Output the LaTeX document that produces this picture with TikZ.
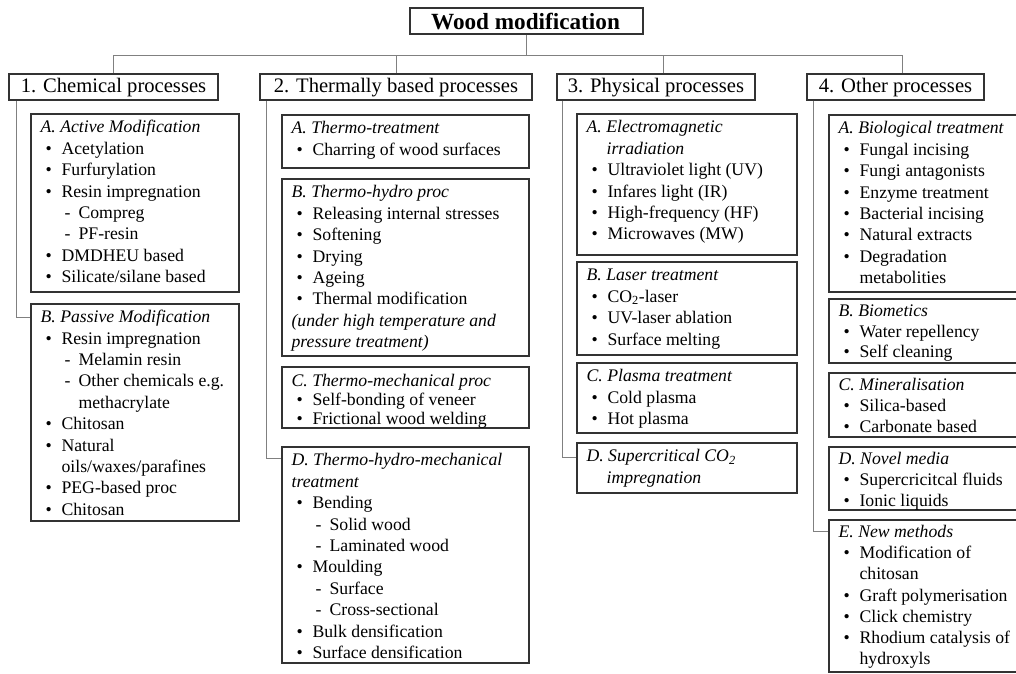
\documentclass[tikz,border=0pt]{standalone}
\usepackage{fontspec}
\setmainfont{Liberation Serif}
\usetikzlibrary{calc,fit}
\newcommand\bodyf{\fontsize{17.7}{21.4}\selectfont}
\newcommand\Lhd[1]{\textit{#1}\par}
\newcommand\Lhc[1]{\hspace*{20pt}\textit{#1}\par}
\newcommand\Lbu[1]{\hspace*{5pt}\makebox[16pt][l]{\textbullet}#1\par}
\newcommand\Lbc[1]{\hspace*{21pt}#1\par}
\newcommand\Lsu[1]{\hspace*{24pt}\makebox[14pt][l]{-}#1\par}
\newcommand\Lsc[1]{\hspace*{38pt}#1\par}
% \TB{box}{first baseline offset}{baselineskip}{lines}
\newcommand\TB[4]{\node[txt] (#1t) at ($(#1.north west)+(10,#2)$)
  {\parbox[t]{320pt}{\raggedright\fontsize{17.7}{#3}\selectfont #4}};}
\begin{document}
\begin{tikzpicture}[x=1pt, y=-1pt,
  box/.style={draw=black!80, line width=1.2pt, inner sep=0pt},
  conn/.style={draw=black!50, line width=1pt},
  txt/.style={inner sep=0pt, anchor=base west},
  lvl/.style={inner sep=0pt, anchor=base, font=\fontsize{20.6}{24}\selectfont}]
\useasboundingbox (0,0) rectangle (1016,673);
\clip (0,0) rectangle (1016,673);
% title
\node[box, fit={(410,8) (643,34)}] (title) {};
\node[inner sep=0pt, anchor=base, font=\fontsize{23.2}{26}\selectfont\bfseries] (titlet) at ($(title.north)+(-1,22)$) {Wood modification};
% level 1
\node[box, fit={(9,74) (218,100)}] (c1) {};
\node[box, fit={(260,74) (532,100)}] (c2) {};
\node[box, fit={(557,74) (755,100)}] (c3) {};
\node[box, fit={(807,74) (984,100)}] (c4) {};
\node[lvl] (c1t) at ($(c1.north)+(0,19.5)$) {1. Chemical processes};
\node[lvl] (c2t) at ($(c2.north)+(0,19.5)$) {2. Thermally based processes};
\node[lvl] (c3t) at ($(c3.north)+(0,19.5)$) {3. Physical processes};
\node[lvl] (c4t) at ($(c4.north)+(0,19.5)$) {4. Other processes};
% bus
\coordinate (busL) at (114,55);
\coordinate (busR) at (902,55);
\draw[conn] (title.south) -- (title.south |- busL);
\draw[conn] (busL) -- (busR);
\draw[conn] (c1.north) -- (c1.north |- busL);
\draw[conn] (c2.north) -- (c2.north |- busL);
\draw[conn] ($(c3.north)+(7,0)$) -- ($(c3.north |- busL)+(7,0)$);
\draw[conn] ($(c4.north)+(6.5,0)$) -- ($(c4.north |- busL)+(6.5,0)$);
% column 1
\node[box, fit={(31,114) (239,292)}] (a1) {};
\node[box, fit={(31,304) (239,521)}] (b1) {};
\coordinate (s1) at ($(c1.south west)+(8,0)$);
\draw[conn] ($(a1.north west)+(0,14)$) -- ($(a1.north west)+(0,14)$ -| s1);
\draw[conn] (s1) |- ($(b1.north west)+(0,14)$);
\TB{a1}{19.5}{21.4}{\Lhd{A. Active Modification}
\Lbu{Acetylation}
\Lbu{Furfurylation}
\Lbu{Resin impregnation}
\Lsu{Compreg}
\Lsu{PF-resin}
\Lbu{DMDHEU based}
\Lbu{Silicate/silane based}}
\TB{b1}{19.5}{21.35}{\Lhd{B. Passive Modification}
\Lbu{Resin impregnation}
\Lsu{Melamin resin}
\Lsu{Other chemicals e.g.}
\Lsc{methacrylate}
\Lbu{Chitosan}
\Lbu{Natural}
\Lbc{oils/waxes/parafines}
\Lbu{PEG-based proc}
\Lbu{Chitosan}}
% column 2
\node[box, fit={(282,115) (529,168)}] (a2) {};
\node[box, fit={(282,179) (529,356)}] (b2) {};
\node[box, fit={(282,367) (529,428)}] (c2b) {};
\node[box, fit={(282,447) (529,663)}] (d2) {};
\coordinate (s2) at ($(c2.south west)+(7,0)$);
\draw[conn] ($(a2.north west)+(0,14)$) -- ($(a2.north west)+(0,14)$ -| s2);
\draw[conn] ($(b2.north west)+(0,14)$) -- ($(b2.north west)+(0,14)$ -| s2);
\draw[conn] ($(c2b.north west)+(0,15)$) -- ($(c2b.north west)+(0,15)$ -| s2);
\draw[conn] (s2) |- ($(d2.north west)+(0,12)$);
\TB{a2}{19.5}{21.4}{\Lhd{A. Thermo-treatment}
\Lbu{Charring of wood surfaces}}
\TB{b2}{19.5}{21.4}{\Lhd{B. Thermo-hydro proc}
\Lbu{Releasing internal stresses}
\Lbu{Softening}
\Lbu{Drying}
\Lbu{Ageing}
\Lbu{Thermal modification}
\Lhd{(under high temperature and}
\Lhd{pressure treatment)}}
\TB{c2b}{20}{19.2}{\Lhd{C. Thermo-mechanical proc}
\Lbu{Self-bonding of veneer}
\Lbu{Frictional wood welding}}
\TB{d2}{19.5}{21.4}{\Lhd{D. Thermo-hydro-mechanical}
\Lhd{treatment}
\Lbu{Bending}
\Lsu{Solid wood}
\Lsu{Laminated wood}
\Lbu{Moulding}
\Lsu{Surface}
\Lsu{Cross-sectional}
\Lbu{Bulk densification}
\Lbu{Surface densification}}
% column 3
\node[box, fit={(577,114) (797,255)}] (a3) {};
\node[box, fit={(577,262) (797,355)}] (b3) {};
\node[box, fit={(577,363) (797,433)}] (c3b) {};
\node[box, fit={(577,443) (797,493)}] (d3) {};
\coordinate (s3) at ($(c3.south west)+(6,0)$);
\draw[conn] ($(a3.north west)+(0,15)$) -- ($(a3.north west)+(0,15)$ -| s3);
\draw[conn] ($(a3.north west)+(0,78)$) -- ($(a3.north west)+(0,78)$ -| s3);
\draw[conn] ($(c3b.north west)+(0,19)$) -- ($(c3b.north west)+(0,19)$ -| s3);
\draw[conn] (s3) |- ($(d3.north west)+(0,15)$);
\TB{a3}{19.5}{21.4}{\Lhd{A. Electromagnetic}
\Lhc{irradiation}
\Lbu{Ultraviolet light (UV)}
\Lbu{Infares light (IR)}
\Lbu{High-frequency (HF)}
\Lbu{Microwaves (MW)}}
\TB{b3}{19.5}{21.4}{\Lhd{B. Laser treatment}
\Lbu{CO\textsubscript{2}-laser}
\Lbu{UV-laser ablation}
\Lbu{Surface melting}}
\TB{c3b}{19.5}{21.4}{\Lhd{C. Plasma treatment}
\Lbu{Cold plasma}
\Lbu{Hot plasma}}
\TB{d3}{19.5}{21.4}{\Lhd{D. Supercritical CO\textsubscript{2}}
\Lhc{impregnation}}
% column 4
\node[box, fit={(829,115) (1030,292)}] (a4) {};
\node[box, fit={(829,299) (1030,363)}] (b4) {};
\node[box, fit={(829,373) (1030,437)}] (c4b) {};
\node[box, fit={(829,447) (1030,510)}] (d4) {};
\node[box, fit={(829,520) (1030,672)}] (e4) {};
\coordinate (s4) at ($(c4.south west)+(7,0)$);
\draw[conn] ($(a4.north west)+(0,14)$) -- ($(a4.north west)+(0,14)$ -| s4);
\draw[conn] ($(b4.north west)+(0,11)$) -- ($(b4.north west)+(0,11)$ -| s4);
\draw[conn] ($(c4b.north west)+(0,12)$) -- ($(c4b.north west)+(0,12)$ -| s4);
\draw[conn] ($(d4.north west)+(0,13)$) -- ($(d4.north west)+(0,13)$ -| s4);
\draw[conn] (s4) |- ($(e4.north west)+(0,12)$);
\TB{a4}{19.5}{21.4}{\Lhd{A. Biological treatment}
\Lbu{Fungal incising}
\Lbu{Fungi antagonists}
\Lbu{Enzyme treatment}
\Lbu{Bacterial incising}
\Lbu{Natural extracts}
\Lbu{Degradation}
\Lbc{metabolities}}
\TB{b4}{18}{20.7}{\Lhd{B. Biometics}
\Lbu{Water repellency}
\Lbu{Self cleaning}}
\TB{c4b}{18.5}{20.7}{\Lhd{C. Mineralisation}
\Lbu{Silica-based}
\Lbu{Carbonate based}}
\TB{d4}{18.5}{20.7}{\Lhd{D. Novel media}
\Lbu{Supercricitcal fluids}
\Lbu{Ionic liquids}}
\TB{e4}{18.3}{21.1}{\Lhd{E. New methods}
\Lbu{Modification of}
\Lbc{chitosan}
\Lbu{Graft polymerisation}
\Lbu{Click chemistry}
\Lbu{Rhodium catalysis of}
\Lbc{hydroxyls}}
\end{tikzpicture}
\end{document}
